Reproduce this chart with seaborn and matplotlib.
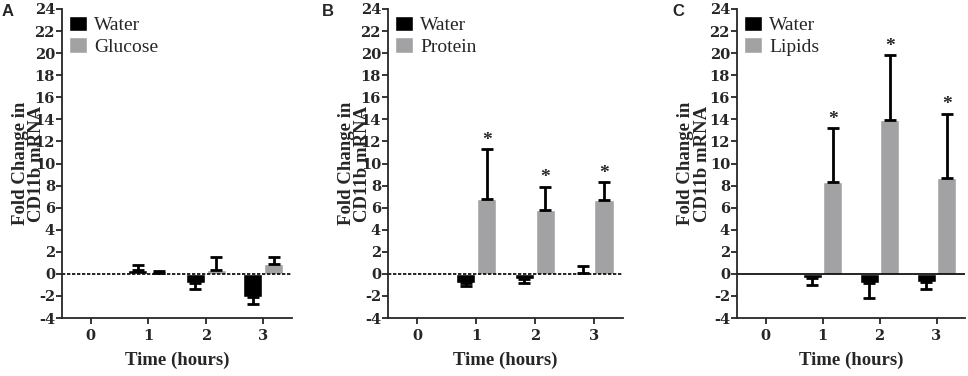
import numpy as np
import pandas as pd
import seaborn as sns
import matplotlib.pyplot as plt
from matplotlib.font_manager import FontProperties

times = ["0", "1", "2", "3"]
yticks = list(range(-4, 25, 2))

# panel A
water_a = [0.0, 0.35, -0.85, -2.1]
water_a_err = [0.0, 0.45, 0.5, 0.6]
glucose = [0.0, 0.05, 0.35, 0.85]
glucose_err = [0.0, 0.2, 1.15, 0.65]

# panel B
water_b = [0.0, -0.8, -0.5, 0.1]
water_b_err = [0.0, 0.3, 0.35, 0.6]
protein = [0.0, 6.8, 5.8, 6.65]
protein_err = [0.0, 4.5, 2.1, 1.65]

# panel C
water_c = [0.0, -0.4, -0.8, -0.7]
water_c_err = [0.0, 0.6, 1.4, 0.7]
lipids = [0.0, 8.3, 13.9, 8.7]
lipids_err = [0.0, 4.9, 5.9, 5.8]

sig_b = [False, True, True, True]
sig_c = [False, True, True, True]

sns.set_style("ticks")
plt.rcParams['font.family'] = ['Liberation Serif', 'DejaVu Serif']
plt.rcParams['font.weight'] = 'bold'
plt.rcParams['axes.labelweight'] = 'bold'
plt.rcParams['axes.unicode_minus'] = False

GRAY = "#a2a2a5"
SERIF = "Liberation Serif"
TICK_FP = FontProperties(family="DejaVu Serif", weight="bold", size=10.5)


def make_df(water, other, name):
    return pd.DataFrame({
        "time": times * 2,
        "value": list(water) + list(other),
        "group": ["Water"] * len(times) + [name] * len(times),
    })


def draw_panel(ax, water, water_err, other, other_err, name, sig, dotted, lx):
    df = make_df(water, other, name)
    sns.barplot(data=df, x="time", y="value", hue="group", order=times,
                palette=["black", GRAY], width=0.72, gap=0.08, errorbar=None,
                saturation=1, ax=ax)

    # one-sided error bars, pointing away from zero
    for cont, vals, err in zip(ax.containers, [water, other], [water_err, other_err]):
        for bar, v, e in zip(cont, vals, err):
            if e <= 0:
                continue
            x = bar.get_x() + bar.get_width() / 2
            yerr = [[0], [e]] if v >= 0 else [[e], [0]]
            ax.errorbar(x, v, yerr=yerr, fmt="none", ecolor="black",
                        elinewidth=2, capsize=4, capthick=2, zorder=3)

    if sig is not None:
        for bar, v, e, s in zip(ax.containers[1], other, other_err, sig):
            if s:
                x = bar.get_x() + bar.get_width() / 2
                ax.text(x, v + e + 0.05, "*", ha="center", va="bottom",
                        fontsize=14, fontweight="bold", family=SERIF)

    if dotted:
        ax.axhline(0, color="black", lw=1.2, ls=(0, (2, 1)), zorder=2)
    else:
        ax.axhline(0, color="black", lw=1.2, zorder=2)

    ax.set_ylim(-4, 24)
    ax.set_xlim(-0.5, 3.5)
    ax.set_yticks(yticks)
    ax.set_yticklabels([str(t) for t in yticks], fontproperties=TICK_FP)
    ax.set_xticks(range(len(times)))
    ax.set_xticklabels(times, fontproperties=TICK_FP)
    ax.tick_params(axis="both", direction="out", length=4, width=1.3, pad=1)
    ax.tick_params(axis="x", pad=4)
    for sp in ["left", "bottom"]:
        ax.spines[sp].set_linewidth(1.3)
    sns.despine(ax=ax)

    ax.set_xlabel("Time (hours)", fontsize=13.5, fontweight="bold", labelpad=6)
    ax.set_ylabel("Fold Change in\nCD11b mRNA", fontsize=13.5, fontweight="bold",
                  linespacing=0.95)
    ax.yaxis.set_label_coords(lx, 0.5)

    leg = ax.legend(loc="upper left", frameon=False, fontsize=14,
                    handlelength=0.95, handleheight=0.85, handletextpad=0.35,
                    labelspacing=0.15, borderaxespad=0.0, borderpad=0.35,
                    bbox_to_anchor=(0.0, 1.0))
    for t in leg.get_texts():
        t.set_family(SERIF)
        t.set_fontweight("normal")


fig = plt.figure(figsize=(9.68, 3.76), dpi=100)
ax_a = fig.add_axes([62 / 968, 1 - 318 / 376, 230 / 968, 309 / 376])
ax_b = fig.add_axes([388 / 968, 1 - 318 / 376, 235 / 968, 309 / 376])
ax_c = fig.add_axes([737 / 968, 1 - 318 / 376, 228 / 968, 309 / 376])

draw_panel(ax_a, water_a, water_a_err, glucose, glucose_err, "Glucose", None, True, -0.072)
draw_panel(ax_b, water_b, water_b_err, protein, protein_err, "Protein", sig_b, True, -0.072)
draw_panel(ax_c, water_c, water_c_err, lipids, lipids_err, "Lipids", sig_c, False, -0.115)

for letter, px in [("A", 2), ("B", 322), ("C", 672)]:
    fig.text(px / 968, 1 - 11 / 376, letter, fontsize=12, fontweight="bold",
             family="Liberation Sans", va="center", ha="left")

fig.savefig("out.png", dpi=100)
